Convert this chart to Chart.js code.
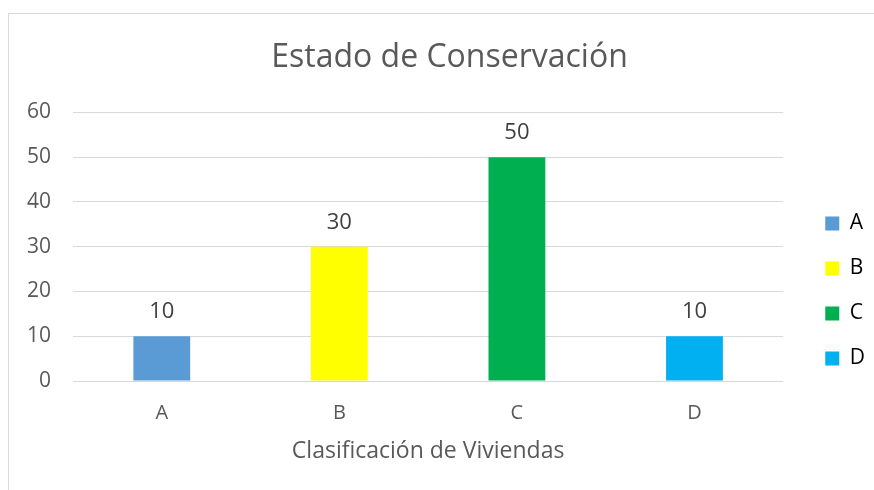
<!DOCTYPE html>
<html>
<head>
<meta charset="utf-8">
<script src="https://cdn.jsdelivr.net/npm/chart.js@4"></script>
<style>
  html, body { margin: 0; padding: 0; width: 874px; height: 490px; overflow: hidden; background: #fff; }
  #frame { position: absolute; left: 8px; top: 13px; width: 900px; height: 600px; border: 1.5px solid #d9d9d9; }
  #myChart { position: absolute; left: 0; top: 0; }
</style>
</head>
<body>
<div id="frame"></div>
<canvas id="myChart" width="874" height="582"></canvas>
<script>
var categorias = ["A", "B", "C", "D"]
var viviendas = [10, 30, 50, 10]
var colores = ["#5b9bd5", "#ffff00", "#00b050", "#00b0f0"]
var ticksY = [0, 10, 20, 30, 40, 50, 60]

var gris = "#595959"
var fuente = "'Open Sans', sans-serif"

// etiquetas de valor encima de cada barra
var etiquetas = {
	id: "etiquetas",
	afterDatasetsDraw: function(chart){
		var ctx = chart.ctx
		var meta = chart.getDatasetMeta(0)
		ctx.save()
		ctx.font = "22px " + fuente
		ctx.fillStyle = "#404040"
		ctx.textAlign = "center"
		ctx.textBaseline = "middle"
		meta.data.forEach(function(bar, i){
			ctx.fillText(viviendas[i], bar.x, bar.y - 24)
		})
		ctx.restore()
	}
}

// mover leyenda y titulo como en el original
var ajuste = {
	id: "ajuste",
	afterLayout: function(chart){
		chart.legend.left += 18
		chart.legend.right += 18
		chart.titleBlock.left += 21
		chart.titleBlock.right += 21
	}
}

var ctx = document.getElementById("myChart").getContext("2d")

var chart = new Chart(ctx, {
	type: "bar",
	data: {
		labels: categorias,
		datasets: [{
			label: "Viviendas",
			data: viviendas,
			backgroundColor: colores,
			barPercentage: 0.32,
			categoryPercentage: 1
		}]
	},
	options: {
		responsive: false,
		animation: false,
		layout: { padding: { left: 0, right: 17, top: 0, bottom: 0 } },
		plugins: {
			title: {
				display: true,
				text: "Estado de Conservación",
				color: gris,
				font: { family: fuente, size: 32, weight: "normal" },
				padding: { top: 39, bottom: 35 }
			},
			legend: {
				position: "right",
				labels: {
					boxWidth: 14,
					boxHeight: 14,
					padding: 24,
					color: gris,
					font: { family: fuente, size: 21 },
					generateLabels: function(chart){
						return categorias.map(function(c, i){
							return { text: c, fillStyle: colores[i], strokeStyle: colores[i], lineWidth: 0, index: i }
						})
					}
				}
			},
			tooltip: { enabled: false }
		},
		scales: {
			x: {
				grid: { display: false },
				border: { display: false },
				ticks: { color: gris, font: { family: fuente, size: 20 }, padding: 12 },
				title: {
					display: true,
					text: "Clasificación de Viviendas",
					color: gris,
					font: { family: fuente, size: 23 },
					padding: { top: 0, bottom: 117 }
				},
				afterFit: function(scale){ scale.height = 201 }
			},
			y: {
				min: 0,
				max: 60,
				grid: { color: "#d9d9d9", lineWidth: 1, drawTicks: false },
				border: { display: false },
				ticks: {
					color: gris,
					font: { family: fuente, size: 21 },
					padding: 22,
					stepSize: 10,
					callback: function(v){ return ticksY.indexOf(v) >= 0 ? v : "" }
				},
				afterFit: function(scale){ scale.width = 73 }
			}
		}
	},
	plugins: [etiquetas, ajuste]
})
</script>
</body>
</html>
